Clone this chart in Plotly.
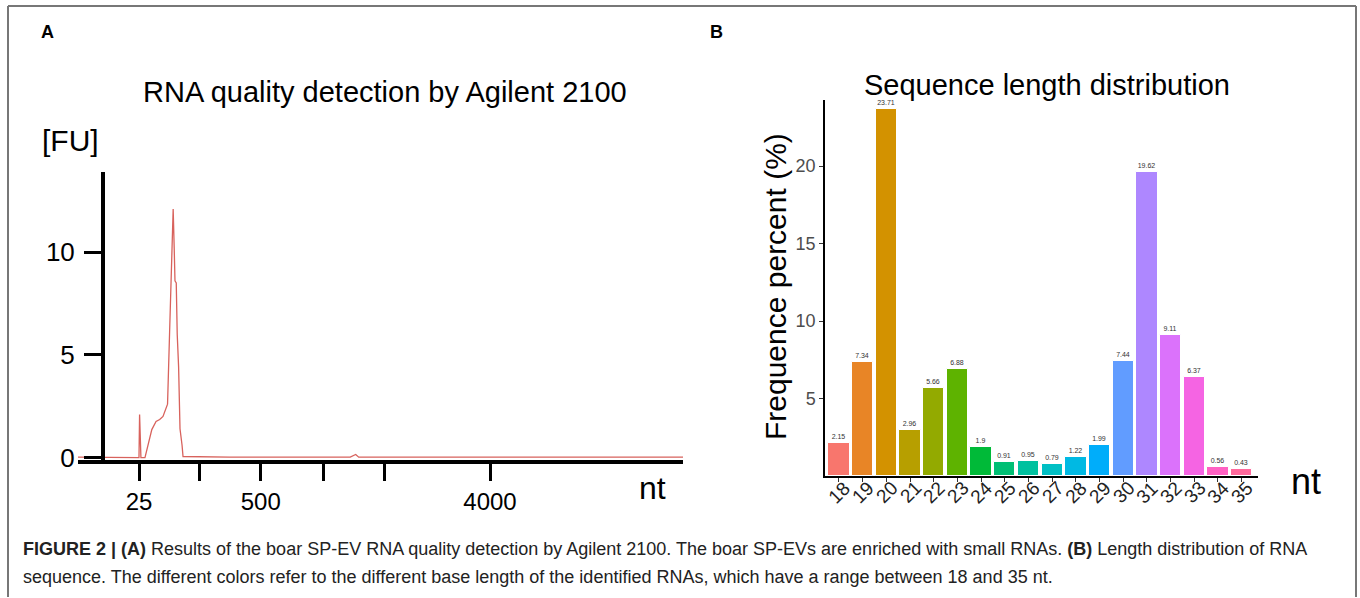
import math
import plotly.graph_objects as go

W, H = 1360, 598

# ---------------- data ----------------
# Panel A: Agilent 2100 electropherogram (migration position units, fluorescence FU)
fu_pos = [0, 8, 10.08, 10.18, 10.3, 10.4, 11.07, 11.5, 12.2, 12.9, 13.5, 14.05, 14.8, 15.14,
          15.5, 15.73, 15.9, 16.03, 16.24, 16.4, 16.63, 16.86, 17.2, 17.36, 25, 45, 45.9, 46.4, 100]
fu_val = [0.02, 0.02, 0.0, 2.1, 0.3, 0.0, 0.0, 0.5, 1.36, 1.76, 1.85, 2.0, 2.6, 6.1,
          9.3, 12.1, 10.2, 8.6, 8.5, 6.0, 4.4, 1.4, 0.6, 0.05, 0.02, 0.02, 0.15, 0.02, 0.02]
ladder_pos = [10.1, 20, 30.2, 40.5, 50.6, 68.1]
ladder_lab = ["25", "", "500", "", "", "4000"]
fu_ticks = [0, 5, 10]

# Panel B: sequence length distribution
lengths = [18, 19, 20, 21, 22, 23, 24, 25, 26, 27, 28, 29, 30, 31, 32, 33, 34, 35]
percent = [2.15, 7.34, 23.71, 2.96, 5.66, 6.88, 1.9, 0.91, 0.95, 0.79, 1.22, 1.99, 7.44,
           19.62, 9.11, 6.37, 0.56, 0.43]
pct_ticks = [5, 10, 15, 20]


# ---------------- helpers ----------------
def px(x):
    return x / W


def py(y):
    return 1 - y / H


def hcl_hex(h, c=100.0, l=65.0):
    Xn, Yn, Zn = 95.047, 100.0, 108.883
    u = c * math.cos(math.radians(h))
    v = c * math.sin(math.radians(h))
    Y = Yn * ((l + 16) / 116) ** 3
    den = Xn + 15 * Yn + 3 * Zn
    un, vn = 4 * Xn / den, 9 * Yn / den
    up = u / (13 * l) + un
    vp = v / (13 * l) + vn
    X = 9 * Y * up / (4 * vp)
    Z = Y * (12 - 3 * up - 20 * vp) / (4 * vp)
    X, Y, Z = X / 100, Y / 100, Z / 100
    r = 3.240479 * X - 1.537150 * Y - 0.498535 * Z
    g = -0.969256 * X + 1.875992 * Y + 0.041556 * Z
    b = 0.055648 * X - 0.204043 * Y + 1.057311 * Z

    def gam(t):
        t = 12.92 * t if t <= 0.0031308 else 1.055 * t ** (1 / 2.4) - 0.055
        return min(1, max(0, t))
    return "#%02X%02X%02X" % tuple(int(round(gam(t) * 255)) for t in (r, g, b))


n = len(lengths)
bar_colors = [hcl_hex(15 + 360 / n * i) for i in range(n)]

FONT = "Arial, Liberation Sans, Helvetica, sans-serif"

fig = go.Figure()

# Panel A trace
fig.add_trace(go.Scatter(x=fu_pos, y=fu_val, mode="lines",
                         line=dict(color="#D8625C", width=1.3),
                         xaxis="x", yaxis="y", showlegend=False, hoverinfo="skip"))

# Panel B bars
fig.add_trace(go.Bar(x=lengths, y=percent, marker=dict(color=bar_colors,
                                                       line=dict(color="white", width=1)),
                     width=0.9, text=[str(p) for p in percent], textposition="outside",
                     textfont=dict(size=7, color="#333333", family=FONT),
                     cliponaxis=False, xaxis="x2", yaxis="y2", showlegend=False,
                     hoverinfo="skip"))

layout = dict(
    width=W, height=H, margin=dict(l=0, r=0, t=0, b=0, autoexpand=False),
    paper_bgcolor="white", plot_bgcolor="white",
    font=dict(family=FONT, color="black"),
    bargap=0,
    xaxis=dict(domain=[px(78), px(683)], range=[0, 100], anchor="y", automargin=False,
               showline=True, linewidth=4, linecolor="black",
               tickmode="array", tickvals=ladder_pos, ticktext=ladder_lab,
               ticks="outside", ticklen=17, tickwidth=3, tickcolor="black",
               tickfont=dict(size=24, color="black"), ticklabelstandoff=0,
               showgrid=False, zeroline=False),
    yaxis=dict(domain=[py(460), py(172)], range=[-0.12, 13.9], anchor="free",
               position=px(103), automargin=False,
               showline=True, linewidth=4, linecolor="black",
               tickmode="array", tickvals=fu_ticks,
               ticks="outside", ticklen=17, tickwidth=3, tickcolor="black",
               tickfont=dict(size=26, color="black"), ticklabelstandoff=4,
               showgrid=False, zeroline=False),
    xaxis2=dict(domain=[px(825), px(1258)], range=[17.41, 35.69], anchor="y2",
                automargin=False,
                showline=True, linewidth=1.5, linecolor="black",
                tickmode="array", tickvals=lengths,
                ticks="outside", ticklen=4, tickwidth=1, tickcolor="#333333",
                showticklabels=False,
                showgrid=False, zeroline=False),
    yaxis2=dict(domain=[py(476), py(100)], range=[0, 24.26], anchor="x2",
                automargin=False,
                showline=True, linewidth=1.5, linecolor="black",
                tickmode="array", tickvals=pct_ticks,
                ticks="outside", ticklen=4, tickwidth=1, tickcolor="#333333",
                tickfont=dict(size=18, color="#4D4D4D"),
                showgrid=False, zeroline=False),
)
fig.update_layout(**layout)

# rotated category labels for panel B (centred under each tick)
for lab in lengths:
    fig.add_annotation(text=str(lab), x=lab, xref="x2", y=py(492), yref="paper",
                       showarrow=False, textangle=-45, xanchor="center", yanchor="middle",
                       font=dict(size=19, color="#222222", family=FONT))

ann = [
    dict(text="<b>A</b>", x=px(47), y=py(32), size=18),
    dict(text="<b>B</b>", x=px(716), y=py(32), size=18),
    dict(text="RNA quality detection by Agilent 2100", x=px(385), y=py(92), size=29),
    dict(text="[FU]", x=px(70), y=py(140), size=30),
    dict(text="nt", x=px(652), y=py(488), size=32),
    dict(text="Sequence length distribution", x=px(1047), y=py(85), size=29),
    dict(text="nt", x=px(1306), y=py(481), size=36),
]
for a in ann:
    fig.add_annotation(text=a["text"], x=a["x"], y=a["y"], xref="paper", yref="paper",
                       showarrow=False, xanchor="center", yanchor="middle",
                       font=dict(size=a["size"], color="black", family=FONT))

fig.add_annotation(text="Frequence percent (%)", x=px(775), y=py(287), xref="paper",
                   yref="paper", showarrow=False, textangle=-90,
                   xanchor="center", yanchor="middle",
                   font=dict(size=30, color="black", family=FONT))

cap1 = ("<b>FIGURE 2 | (A)</b> Results of the boar SP-EV RNA quality detection by Agilent 2100. "
        "The boar SP-EVs are enriched with small RNAs. <b>(B)</b> Length distribution of RNA")
cap2 = ("sequence. The different colors refer to the different base length of the identified "
        "RNAs, which have a range between 18 and 35 nt.")
for txt, yy in ((cap1, 549), (cap2, 577)):
    fig.add_annotation(text=txt, x=px(21), y=py(yy), xref="paper", yref="paper",
                       showarrow=False, xanchor="left", yanchor="middle",
                       font=dict(size=18, color="#222222", family=FONT))

# figure frame (top, left, right edges)
frame = dict(color="#777777", width=2)
fig.add_shape(type="line", xref="paper", yref="paper", x0=px(8), x1=px(1356),
              y0=py(6), y1=py(6), line=frame)
fig.add_shape(type="line", xref="paper", yref="paper", x0=px(8), x1=px(8),
              y0=py(6), y1=py(597), line=frame)
fig.add_shape(type="line", xref="paper", yref="paper", x0=px(1356), x1=px(1356),
              y0=py(6), y1=py(597), line=frame)

post = """
var st = document.createElement('style');
st.textContent = 'html,body{margin:0;padding:0;overflow:hidden;}';
document.head.appendChild(st);
"""
fig.write_html("out.html", config={"displayModeBar": False}, post_script=post)
